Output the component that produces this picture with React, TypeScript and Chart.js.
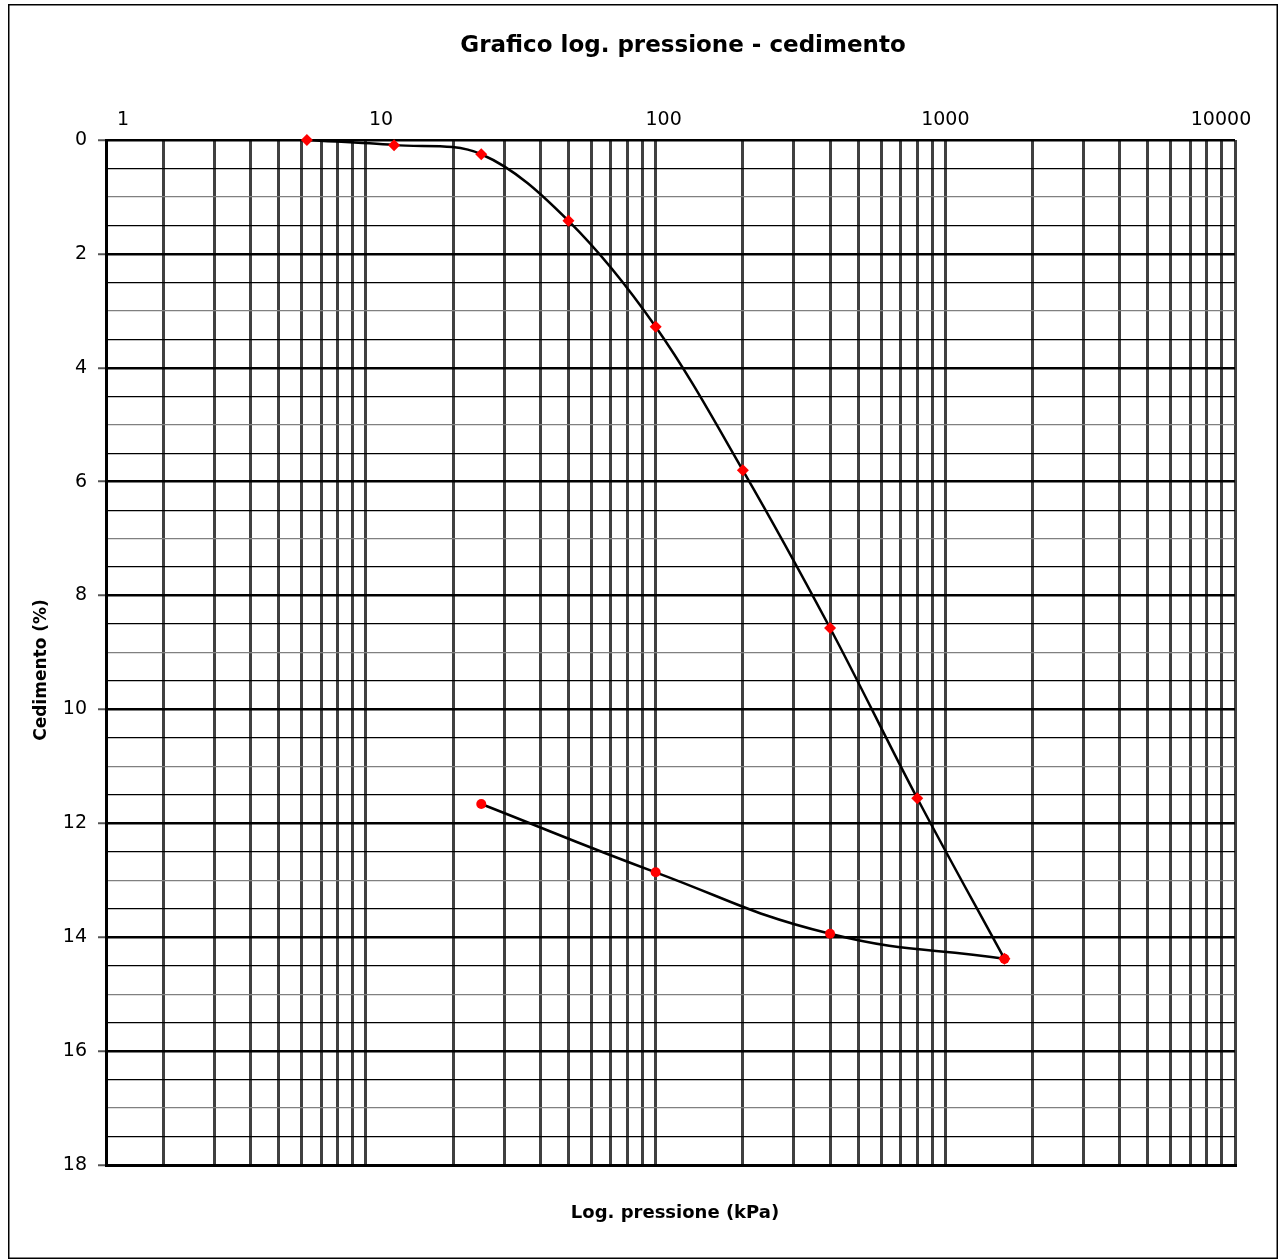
import React, { useEffect, useRef } from "react";
import { Chart, registerables } from "chart.js";

Chart.register(...registerables);

// ---- data ----
const loadPressure = [6.25, 12.5, 25, 50, 100, 200, 400, 800, 1600];
const loadSettlement = [0.0, 0.09, 0.25, 1.42, 3.28, 5.8, 8.57, 11.56, 14.38];
const unloadPressure = [1600, 400, 100, 25];
const unloadSettlement = [14.38, 13.94, 12.86, 11.66];

const decades = [1, 10, 100, 1000];
const decadeMultipliers = [2, 3, 4, 5, 6, 7, 8, 9, 10];
const topLabels = ["1", "10", "100", "1000", "10000"];
const topLabelValues = [1, 10, 100, 1000, 10000];

const xMin = 1.266;
const xMax = 10000;
const yMin = 0;
const yMax = 18;
const yMajorStep = 2;
const yMinorStep = 0.5;

const titleText = "Grafico log. pressione - cedimento";
const xTitleText = "Log. pressione (kPa)";
const yTitleText = "Cedimento (%)";

const CANVAS_W = 1270;
const CANVAS_H = 1255;

const decorPlugin = {
  id: "decor",
  beforeDraw(chart: any) {
    const ctx = chart.ctx;
    ctx.save();
    ctx.fillStyle = "#fff";
    ctx.fillRect(0, 0, chart.width, chart.height);
    ctx.restore();
  },
  afterDraw(chart: any) {
    const ctx = chart.ctx;
    const area = chart.chartArea;
    const xs = chart.scales.x;
    ctx.save();
    // outer frame
    ctx.strokeStyle = "#000";
    ctx.lineWidth = 1.5;
    ctx.strokeRect(0.75, 0.75, chart.width - 1.5, chart.height - 1.5);

    ctx.fillStyle = "#000";
    ctx.textAlign = "center";
    ctx.textBaseline = "middle";

    // title
    ctx.font = "bold 23px 'DejaVu Sans'";
    ctx.fillText(titleText, 675, 42);

    // top labels (hand-placed text boxes in the original)
    const offsets = [0, 15, 8, 0, -14];
    ctx.font = "19px 'DejaVu Sans'";
    topLabels.forEach((lab, i) => {
      let px = xs.getPixelForValue(topLabelValues[i]) + offsets[i];
      if (i === 0) px = area.left + 17;
      ctx.fillText(lab, px, 116);
    });

    // x axis title
    ctx.font = "bold 18px 'DejaVu Sans'";
    ctx.fillText(xTitleText, 667, 1209);

    // y axis title
    ctx.translate(34, 666);
    ctx.rotate(-Math.PI / 2);
    ctx.font = "bold 17px 'DejaVu Sans'";
    ctx.fillText(yTitleText, 0, 0);
    ctx.restore();
  },
};

export default function App() {
  const ref = useRef<HTMLCanvasElement | null>(null);

  useEffect(() => {
    if (!ref.current) return;
    const xGrid: number[] = [];
    decades.forEach((d) => decadeMultipliers.forEach((m) => xGrid.push(d * m)));

    const chart = new Chart(ref.current, {
      type: "line",
      data: {
        datasets: [
          {
            label: "Carico",
            data: loadPressure.map((x, i) => ({ x, y: loadSettlement[i] })),
            borderColor: "#000",
            borderWidth: 2.5,
            tension: 0.35,
            pointStyle: "rectRot",
            pointRadius: 6,
            pointBackgroundColor: "#ff0000",
            pointBorderColor: "#ff0000",
            pointBorderWidth: 0,
            clip: false,
          },
          {
            label: "Scarico",
            data: unloadPressure.map((x, i) => ({ x, y: unloadSettlement[i] })),
            borderColor: "#000",
            borderWidth: 2.5,
            tension: 0.45,
            pointStyle: "circle",
            pointRadius: 5,
            pointBackgroundColor: "#ff0000",
            pointBorderColor: "#ff0000",
            pointBorderWidth: 0,
            clip: false,
          },
        ],
      },
      options: {
        responsive: false,
        animation: false,
        devicePixelRatio: 1,
        layout: { padding: { top: 136, right: 43, bottom: 0, left: 0 } },
        plugins: {
          legend: { display: false },
          title: { display: false },
          tooltip: { enabled: false },
        },
        scales: {
          x: {
            type: "logarithmic",
            position: "bottom",
            min: xMin,
            max: xMax,
            afterBuildTicks: (s: any) => {
              s.ticks = xGrid.map((v) => ({ value: v }));
            },
            ticks: { display: false },
            grid: { color: "#404040", lineWidth: 3, drawTicks: false },
            border: { display: true, color: "#000", width: 3 },
            afterFit: (s: any) => {
              s.height = 94;
            },
          },
          y: {
            type: "linear",
            reverse: true,
            min: yMin,
            max: yMax,
            afterBuildTicks: (s: any) => {
              const t: any[] = [];
              for (let v = yMin; v <= yMax + 1e-9; v += yMinorStep) t.push({ value: v });
              s.ticks = t;
            },
            ticks: {
              autoSkip: false,
              padding: 11,
              color: "#000",
              font: { family: "'DejaVu Sans'", size: 19 },
              callback: (v: any) => (Number(v) % yMajorStep === 0 ? String(v) : ""),
            },
            grid: {
              tickLength: 8,
              tickWidth: 2,
              tickColor: (c: any) =>
                c.tick && c.tick.value % yMajorStep === 0 ? "#555" : "transparent",
              color: (c: any) => {
                const v = c.tick ? c.tick.value : 0;
                if (v % yMajorStep === 0) return "#000";
                if (v % 1 === 0) return "#808080";
                return "#000";
              },
              lineWidth: (c: any) => {
                const v = c.tick ? c.tick.value : 0;
                if (v % yMajorStep === 0) return 2.5;
                return 1.2;
              },
            },
            border: { display: true, color: "#000", width: 3 },
            afterFit: (s: any) => {
              s.width = 98;
            },
          },
        },
      } as any,
      plugins: [decorPlugin],
    });
    return () => chart.destroy();
  }, []);

  return (
    <div style={{ position: "absolute", left: 8, top: 4, width: CANVAS_W, height: CANVAS_H }}>
      <canvas ref={ref} width={CANVAS_W} height={CANVAS_H} />
    </div>
  );
}
